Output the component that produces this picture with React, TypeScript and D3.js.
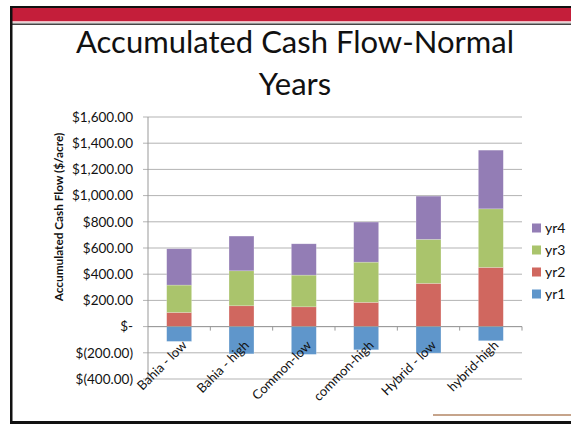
import React from 'react'
import * as d3 from 'd3'

// categories and stacked yearly values ($/acre)
const categories = ['Bahia - low', 'Bahia - high', 'Common-low', 'common-high', 'Hybrid - low', 'hybrid-high']
const yr1 = [-113, -208, -212, -177, -202, -108]
const yr2 = [108, 159, 151, 185, 330, 452]
const yr3 = [209, 267, 242, 307, 336, 447]
const yr4 = [277, 265, 239, 306, 330, 448]
const seriesNames = ['yr1', 'yr2', 'yr3', 'yr4']
const seriesColors = ['#5f96cb', '#d0675f', '#aac46c', '#937db5']
const yTicks = [-400, -200, 0, 200, 400, 600, 800, 1000, 1200, 1400, 1600]

const W = 571
const H = 424
const font = 'Lato, "Open Sans", sans-serif'

const fmt = (v: number) => {
  if (v === 0) return '$-'
  const s = d3.format(',.2f')(Math.abs(v))
  return v < 0 ? `$(${s})` : `$${s}`
}

export default function App() {
  const x = d3.scaleBand<string>().domain(categories).range([148, 522]).paddingInner(0.6).paddingOuter(0.3)
  const xOuter = d3.scaleBand<string>().domain(categories).range([148, 522])
  const y = d3.scaleLinear().domain([-400, 1600]).range([379, 117])

  const values = [yr1, yr2, yr3, yr4]

  // positive stack for yr2..yr4, yr1 downward from zero
  const rects: { x: number; y0: number; y1: number; color: string; key: string }[] = []
  categories.forEach((c, i) => {
    rects.push({ x: x(c)!, y0: 0, y1: yr1[i], color: seriesColors[0], key: `yr1-${i}` })
    let base = 0
    for (let s = 1; s < 4; s++) {
      const v = values[s][i]
      rects.push({ x: x(c)!, y0: base, y1: base + v, color: seriesColors[s], key: `s${s}-${i}` })
      base += v
    }
  })

  return (
    <div style={{ position: 'absolute', left: 0, top: 0 }}>
      <svg width={W} height={H} style={{ display: 'block', fontFamily: font }}>
        <rect x={0} y={0} width={W} height={H} fill="#fff" />
        {/* slide frame */}
        <rect x={10} y={6} width={W - 10} height={2} fill="#111" />
        <rect x={12} y={8} width={W - 12} height={13} fill="#c41e3a" />
        <rect x={12} y={21} width={W - 12} height={1.5} fill="#f0b8c0" />
        <rect x={12} y={22.5} width={W - 12} height={1} fill="#ccc" />
        <rect x={12} y={23.5} width={W - 12} height={1.5} fill="#444" />
        <rect x={10} y={6} width={2.5} height={H - 6} fill="#111" />
        <rect x={10} y={H - 3} width={W - 10} height={3} fill="#111" />
        <line x1={433} x2={W} y1={415} y2={415} stroke="#a0683f" strokeWidth={1.5} opacity={0.8} />

        <text x={295} y={53} textAnchor="middle" fontSize={31} fill="#111">Accumulated Cash Flow-Normal</text>
        <text x={295} y={95} textAnchor="middle" fontSize={31} fill="#111">Years</text>

        {/* gridlines and y axis */}
        {yTicks.map(t => (
          <g key={t}>
            <line x1={143} x2={522} y1={y(t)} y2={y(t)} stroke="#b3b3b3" strokeWidth={1} />
            <text x={133} y={y(t)} dy="0.35em" textAnchor="end" fontSize={13.5} fill="#111">{fmt(t)}</text>
          </g>
        ))}
        <line x1={148} x2={148} y1={y(1600)} y2={y(-400)} stroke="#999" />

        {rects.map(r => (
          <rect key={r.key} x={r.x} width={x.bandwidth()} y={Math.min(y(r.y0), y(r.y1))}
            height={Math.abs(y(r.y1) - y(r.y0))} fill={r.color} stroke="#fff" strokeOpacity={0.35} strokeWidth={0.6} />
        ))}

        {/* x axis at zero */}
        <line x1={148} x2={522} y1={y(0)} y2={y(0)} stroke="#999" />
        {categories.map(c => (
          <line key={c} x1={xOuter(c)! + xOuter.bandwidth()} x2={xOuter(c)! + xOuter.bandwidth()}
            y1={y(0)} y2={y(0) + 4} stroke="#999" />
        ))}
        {categories.map(c => {
          const cx = x(c)! + x.bandwidth() / 2
          return (
            <text key={c} transform={`translate(${cx + 2},${y(0) + 13}) rotate(-45)`} textAnchor="end"
              dy="0.7em" fontSize={13} fill="#111">{c}</text>
          )
        })}

        <text transform={`translate(63,217) rotate(-90)`} textAnchor="middle" fontSize={11.8} fontWeight="bold" fill="#111">
          Accumulated Cash Flow ($/acre)
        </text>

        {/* legend */}
        {[3, 2, 1, 0].map((s, k) => (
          <g key={s} transform={`translate(532,${228 + k * 22})`}>
            <rect x={0} y={-4.5} width={9} height={9} fill={seriesColors[s]} />
            <text x={13} y={0} dy="0.35em" fontSize={14} fill="#111">{seriesNames[s]}</text>
          </g>
        ))}
      </svg>
    </div>
  )
}
